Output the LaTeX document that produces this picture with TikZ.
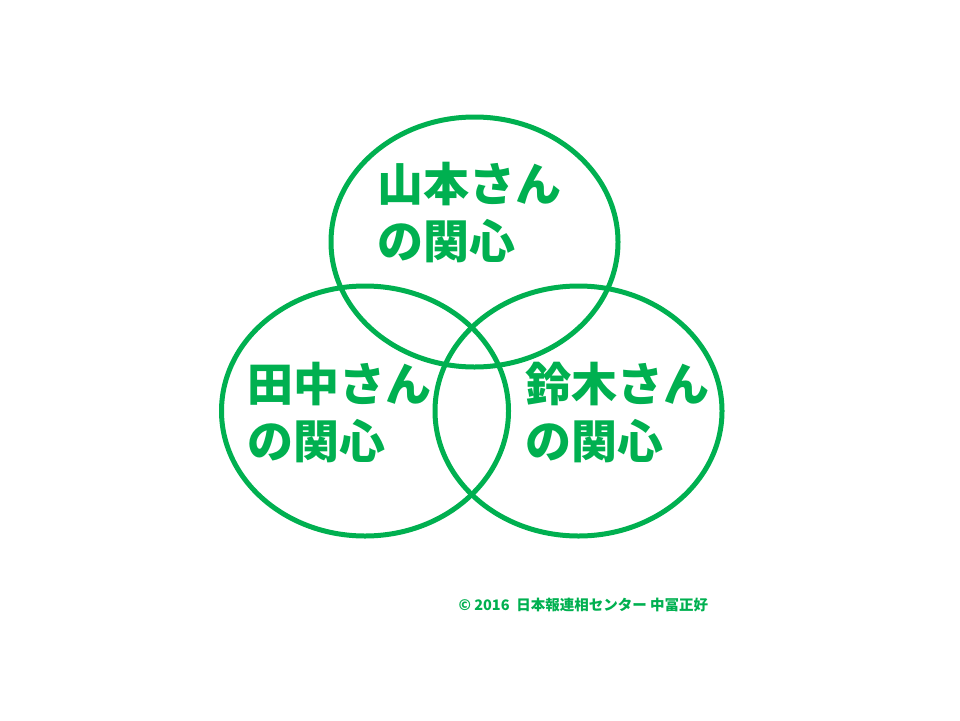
\documentclass[tikz,border=0pt]{standalone}
\usepackage{fontspec}
\newfontfamily\jpfont{Noto Sans CJK JP}
\usetikzlibrary{shapes.geometric}
\definecolor{venngreen}{RGB}{0,176,80}
\tikzset{
  circ/.style={ellipse, draw=venngreen, line width=5pt, inner sep=0pt,
    minimum width=287pt, minimum height=250pt},
  who/.style={anchor=west, align=left, text=venngreen, inner sep=0pt,
    font=\jpfont\bfseries\fontsize{46}{57}\selectfont}
}
\begin{document}
\begin{tikzpicture}[x=1pt,y=-1pt]
  \useasboundingbox (0,0) rectangle (960,720);
  \node[circ] (yamamoto) at (474.5,242) {};
  \node[circ] (tanaka) at (365,411) {};
  \node[circ] (suzuki) at (578.5,411) {};

  \node[who] (yamamotoT) at (377,213) {山本さん\\の関心};
  \node[who] (tanakaT) at (247,413) {田中さん\\の関心};
  \node[who] (suzukiT) at (525,413) {鈴木さん\\の関心};

  \node[text=venngreen, font=\jpfont\bfseries\fontsize{14.5}{16}\selectfont, anchor=west]
    (credit) at (455,605) {© 2016\ \ 日本報連相センター 中冨正好};
\end{tikzpicture}
\end{document}
